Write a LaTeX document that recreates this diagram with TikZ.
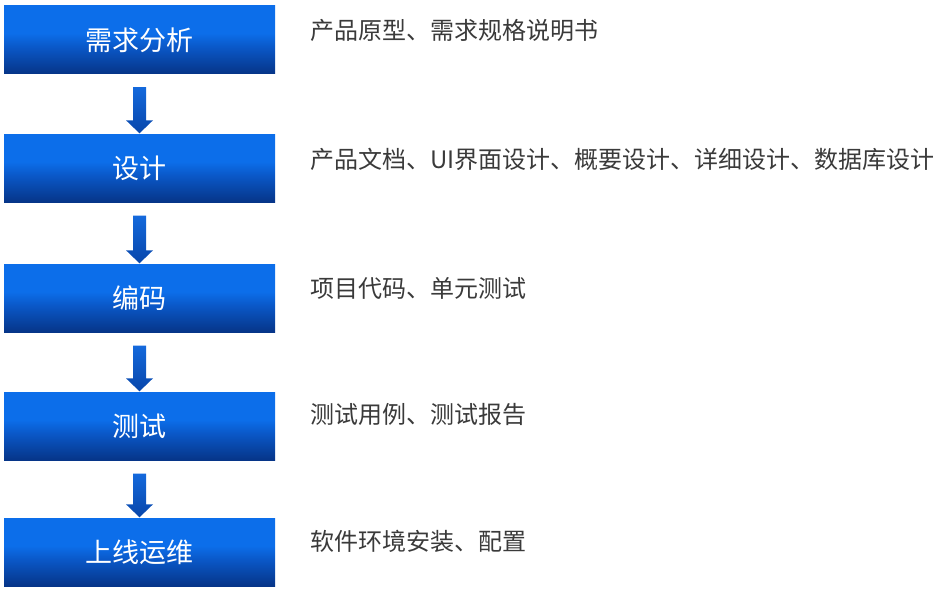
\documentclass[tikz,border=0pt]{standalone}
\usepackage{fontspec}
\setmainfont{Noto Sans CJK SC}
\newfontfamily\cjk{Noto Sans CJK SC}
\usetikzlibrary{calc,positioning}
\definecolor{bright}{RGB}{12,110,234}
\definecolor{midblue}{RGB}{10,88,200}
\definecolor{darkblue}{RGB}{6,52,135}
\definecolor{arrtop}{RGB}{20,105,220}
\definecolor{arrbot}{RGB}{8,70,170}
\definecolor{txtgray}{RGB}{58,58,58}
\pgfdeclareverticalshading{boxshade}{100bp}{color(0bp)=(darkblue); color(25bp)=(darkblue); color(45bp)=(midblue); color(55bp)=(bright); color(100bp)=(bright)}
\tikzset{
  stagebox/.style={shading=boxshade, minimum width=271pt, minimum height=68pt, inner sep=0pt, text=white, font=\cjk\fontsize{27pt}{30pt}\selectfont},
  desc/.style={anchor=west, inner sep=0pt, text=txtgray, font=\cjk\fontsize{24pt}{27pt}\selectfont},
  arrowfill/.style={top color=arrtop, bottom color=arrbot}
}
\begin{document}
\begin{tikzpicture}[x=1pt,y=1pt]
\useasboundingbox (0,0) rectangle (944,-591);
\node[stagebox] (s1) at (139.5,-40) {需求分析};
\node[stagebox] (s2) at (139.5,-168.5) {设计};
\node[stagebox] (s3) at (139.5,-298.5) {编码};
\node[stagebox] (s4) at (139.5,-426.5) {测试};
\node[stagebox] (s5) at (139.5,-552.5) {上线运维};
\node[desc] (d1) at (310,-30) {产品原型、需求规格说明书};
\node[desc] (d2) at (310,-159) {产品文档、UI界面设计、概要设计、详细设计、数据库设计};
\node[desc] (d3) at (310,-288.5) {项目代码、单元测试};
\node[desc] (d4) at (310,-414) {测试用例、测试报告};
\node[desc] (d5) at (310,-541) {软件环境安装、配置};
\foreach \a/\b in {s1/s2,s2/s3,s3/s4,s4/s5}{
  \path[arrowfill] ($(\a.south)+(-6.5,-13)$) -- ($(\a.south)+(6.5,-13)$)
     -- ($(\b.north)+(6.5,14)$) -- ($(\b.north)+(13.5,14)$)
     -- ($(\b.north)+(0,1)$) -- ($(\b.north)+(-13.5,14)$)
     -- ($(\b.north)+(-6.5,14)$) -- cycle;
}
\end{tikzpicture}
\end{document}
